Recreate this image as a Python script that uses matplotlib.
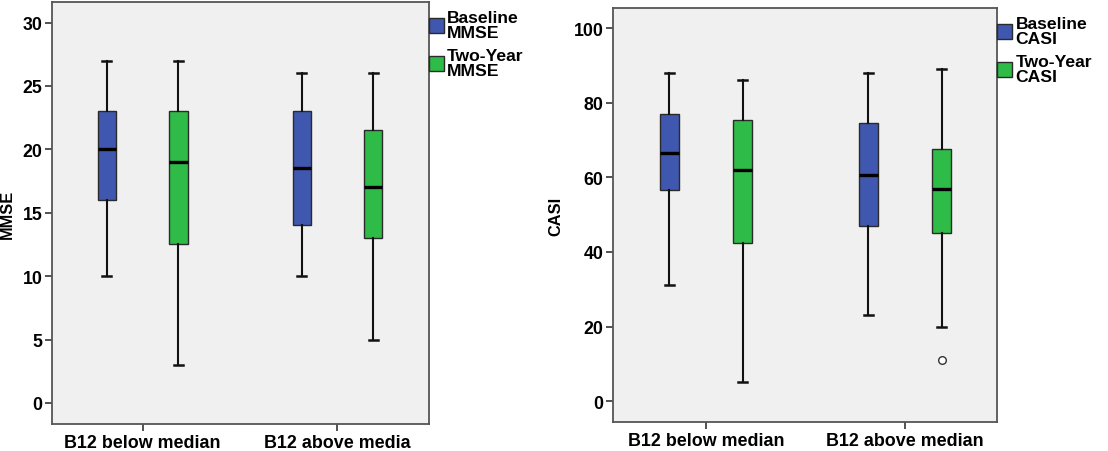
import matplotlib
matplotlib.use("Agg")
import matplotlib.pyplot as plt
from matplotlib.patches import Patch

plt.rcParams['font.family'] = ['Liberation Sans', 'DejaVu Sans']
plt.rcParams['font.weight'] = 'bold'

categories_left = ["B12 below median", "B12 above media"]
categories_right = ["B12 below median", "B12 above median"]
series_names_left = ["Baseline\nMMSE", "Two-Year\nMMSE"]
series_names_right = ["Baseline\nCASI", "Two-Year\nCASI"]

# MMSE stats: [below-baseline, below-two-year, above-baseline, above-two-year]
mmse_whislo = [10, 3, 10, 5]
mmse_q1 = [16, 12.5, 14, 13]
mmse_med = [20, 19, 18.5, 17]
mmse_q3 = [23, 23, 23, 21.5]
mmse_whishi = [27, 27, 26, 26]
mmse_fliers = [[], [], [], []]

casi_whislo = [31, 5, 23, 20]
casi_q1 = [56.5, 42.5, 47, 45]
casi_med = [66.5, 62, 60.5, 57]
casi_q3 = [77, 75.5, 74.5, 67.5]
casi_whishi = [88, 86, 88, 89]
casi_fliers = [[], [], [], [11]]

mmse_ticks = [0, 5, 10, 15, 20, 25, 30]
casi_ticks = [0, 20, 40, 60, 80, 100]

BLUE = "#3f57ae"
GREEN = "#2fbb47"
BG = "#f0f0f0"

W, H = 1108, 452
fig = plt.figure(figsize=(W / 100, H / 100), dpi=100)
fig.patch.set_facecolor("white")


def px_axes(l, t, r, b):
    return fig.add_axes([l / W, 1 - b / H, (r - l) / W, (b - t) / H])


def draw(ax, cats, names, whislo, q1, med, q3, whishi, fliers, ylim, ticks, ylabel, xlim,
         labelx, legy):
    stats = []
    positions = []
    colors = [BLUE, GREEN, BLUE, GREEN]
    offs = [-0.184, 0.184]
    for i in range(4):
        g = i // 2
        s = i % 2
        stats.append(dict(whislo=whislo[i], q1=q1[i], med=med[i], q3=q3[i],
                          whishi=whishi[i], fliers=fliers[i]))
        positions.append(g + offs[s])
    bp = ax.bxp(stats, positions=positions, widths=0.093, patch_artist=True,
                showfliers=True, capwidths=0.045,
                boxprops=dict(edgecolor="#2a2a2a", linewidth=1.0),
                medianprops=dict(color="black", linewidth=2.4),
                whiskerprops=dict(color="#111111", linewidth=1.5),
                capprops=dict(color="#111111", linewidth=1.8),
                flierprops=dict(marker="o", markersize=5.5, markerfacecolor="white",
                                markeredgecolor="#333333", markeredgewidth=1.0))
    for patch, c in zip(bp["boxes"], colors):
        patch.set_facecolor(c)
    ax.set_facecolor(BG)
    ax.set_xlim(*xlim)
    ax.set_ylim(*ylim)
    ax.set_yticks(ticks)
    ax.set_yticklabels([str(t) for t in ticks], fontsize=12.8, fontweight="bold")
    ax.set_xticks([0, 1])
    ax.set_xticklabels(cats, fontsize=12.9, fontweight="bold")
    ax.set_ylabel(ylabel, fontsize=11.8, fontweight="bold")
    ax.yaxis.set_label_coords(labelx, 0.5)
    for sp in ax.spines.values():
        sp.set_color("#555555")
        sp.set_linewidth(1.3)
    ax.tick_params(axis="both", direction="out", length=5, width=1.3, color="#444444", pad=2)
    handles = [Patch(facecolor=BLUE, edgecolor="#2a2a2a", linewidth=1.0),
               Patch(facecolor=GREEN, edgecolor="#2a2a2a", linewidth=1.0)]
    leg = ax.legend(handles, names, loc="upper left", bbox_to_anchor=(1.0, legy),
                    frameon=False, handlelength=0.86, handleheight=0.95,
                    handletextpad=0.2, labelspacing=0.45, borderaxespad=0.0,
                    borderpad=0.0, prop=dict(weight="bold", size=12.6))
    for t in leg.get_texts():
        t.set_linespacing(1.02)
    return bp


ax1 = px_axes(52, 3.3, 428.6, 425)
draw(ax1, categories_left, series_names_left, mmse_whislo, mmse_q1, mmse_med, mmse_q3,
     mmse_whishi, mmse_fliers, (-1.66, 31.6), mmse_ticks, "MMSE", (-0.465, 1.468),
     -0.098, 1 - (11 - 3.3) / 421.7)

ax2 = px_axes(613, 9, 997, 423)
draw(ax2, categories_right, series_names_right, casi_whislo, casi_q1, casi_med, casi_q3,
     casi_whishi, casi_fliers, (-5.6, 105.4), casi_ticks, "CASI", (-0.467, 1.462),
     -0.128, 1 - (17 - 9) / 414)

fig.savefig("out.png", dpi=100, facecolor="white")
